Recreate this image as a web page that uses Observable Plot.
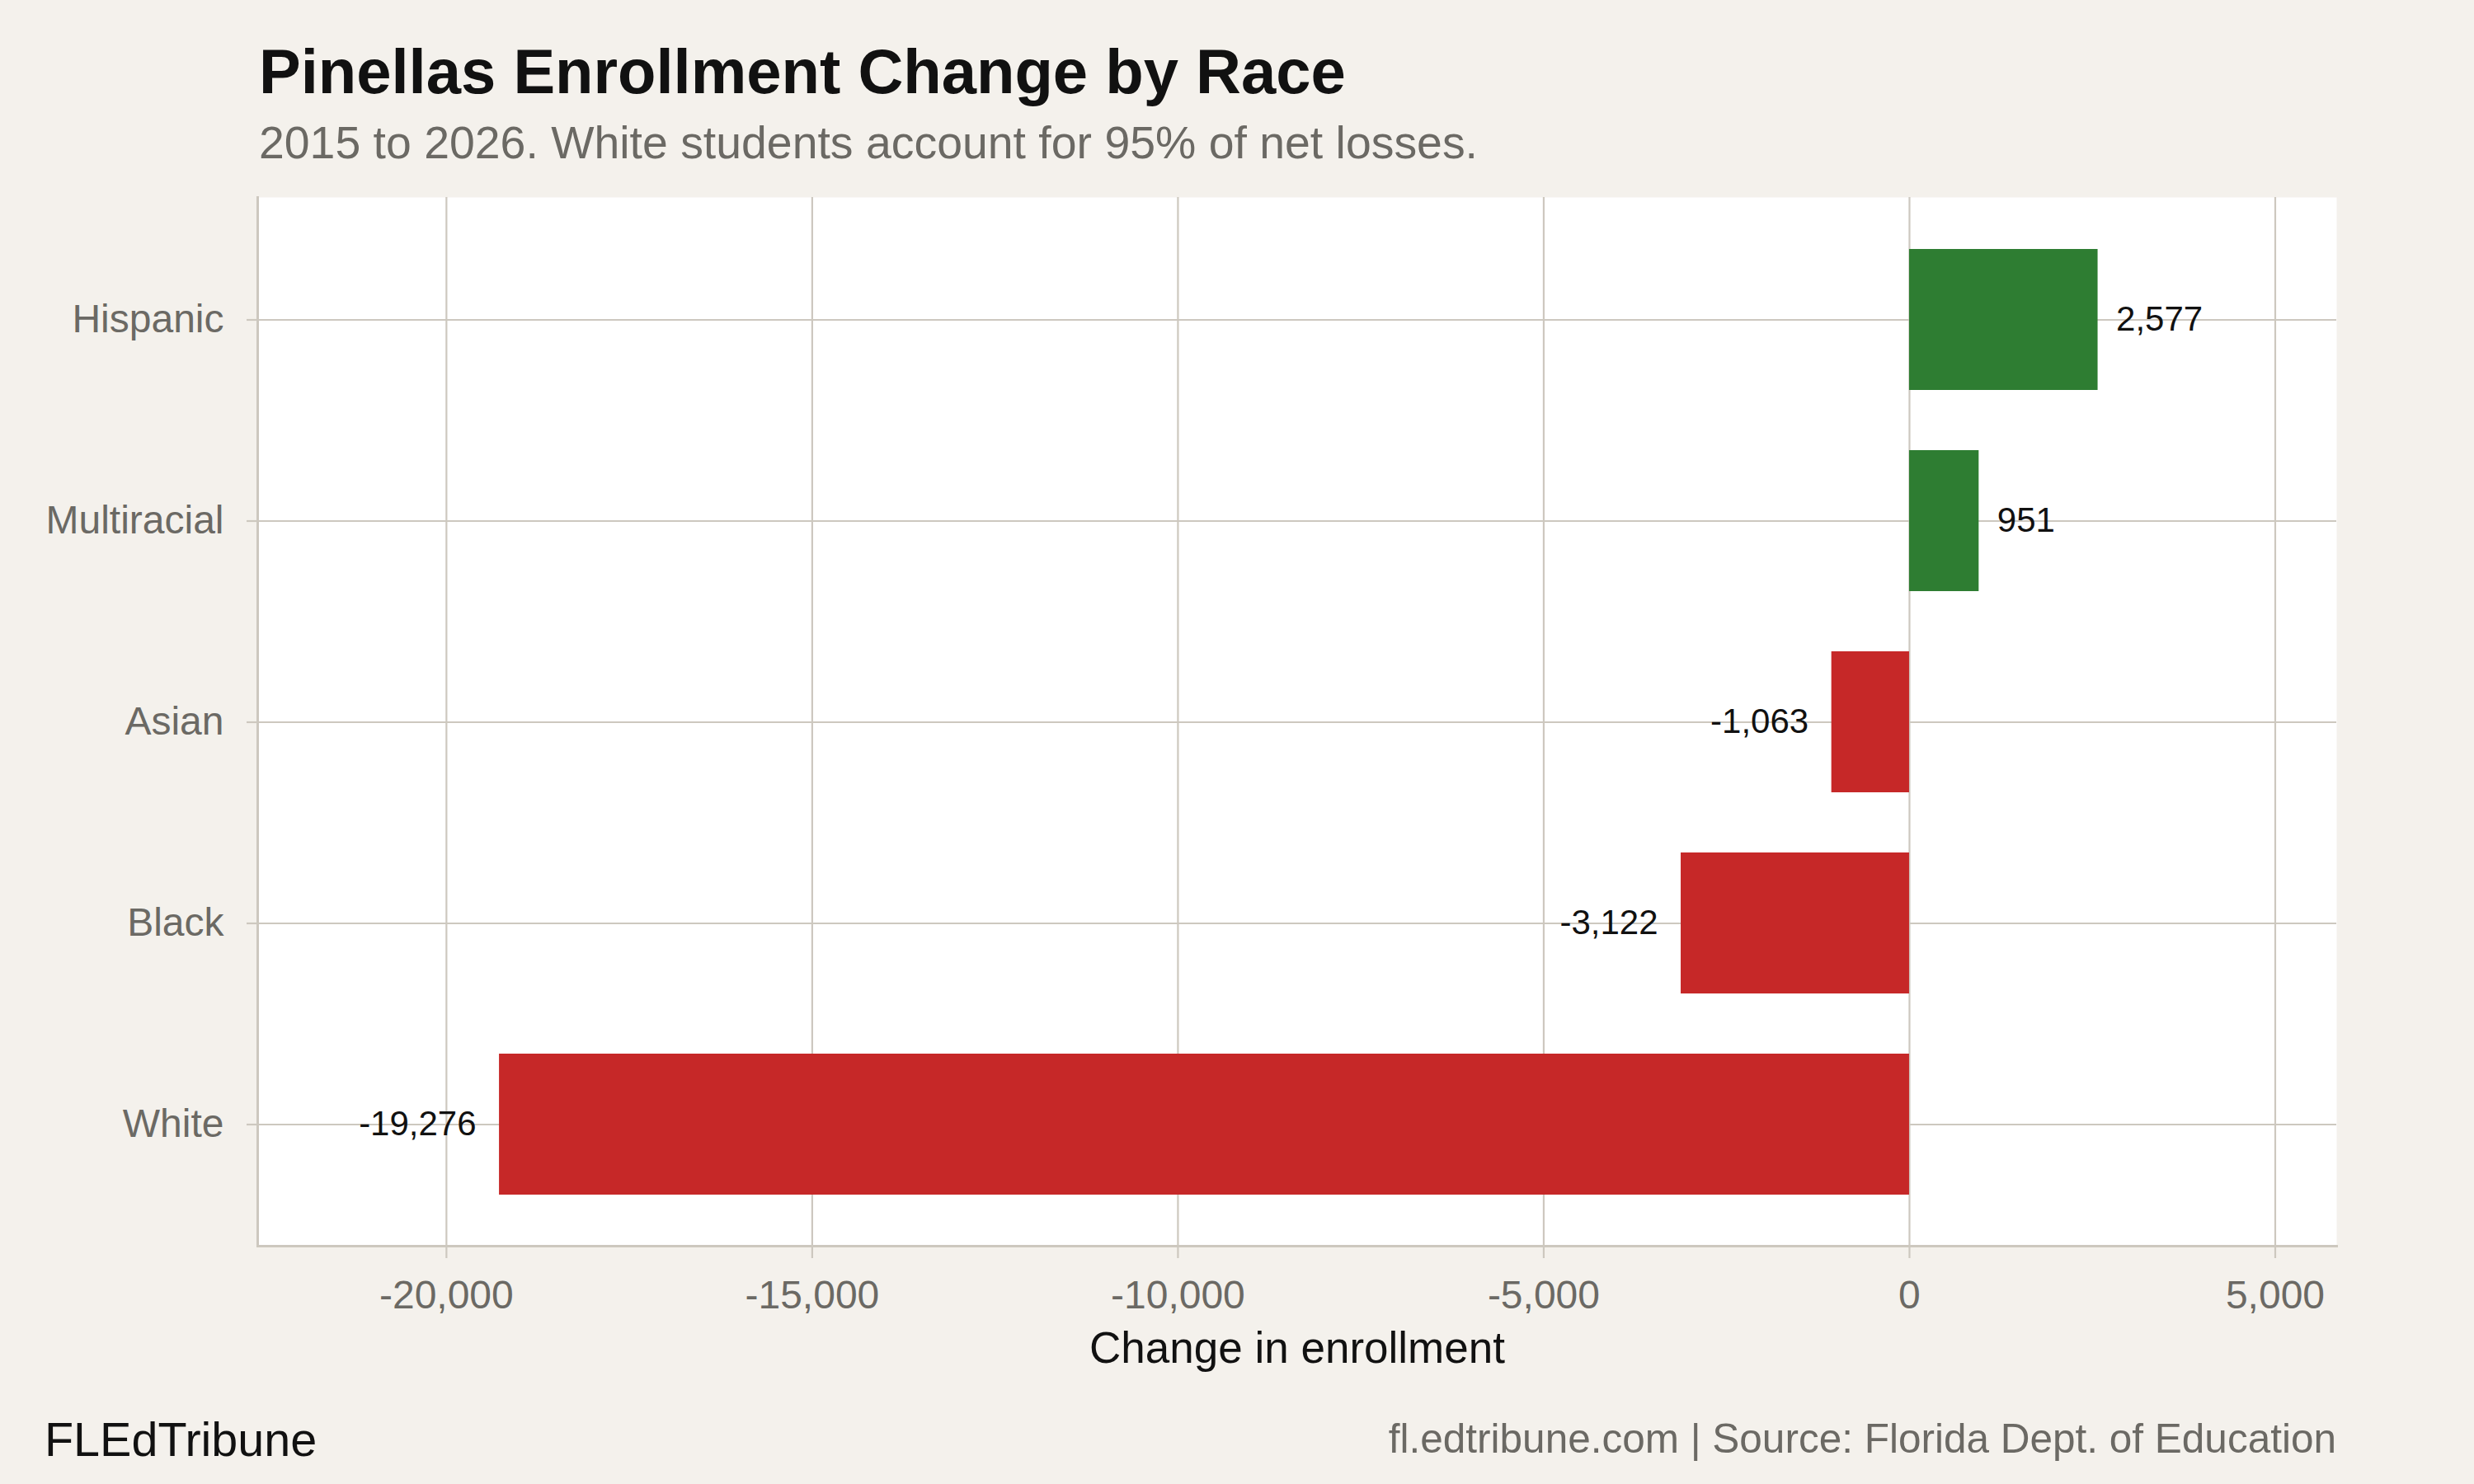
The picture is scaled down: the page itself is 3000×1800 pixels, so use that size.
<!DOCTYPE html>
<html>
<head>
<meta charset="utf-8">
<script src="https://cdn.jsdelivr.net/npm/d3@7"></script>
<script src="https://cdn.jsdelivr.net/npm/@observablehq/plot@0.6"></script>
<style>
  html, body { margin: 0; padding: 0; background: #f4f1ec; }
  body { width: 3000px; height: 1800px; position: relative; overflow: hidden;
         font-family: "Liberation Sans", Arial, Helvetica, sans-serif; }
  .t { position: absolute; white-space: nowrap; line-height: 1; }
  #title { left: 314px; top: 49px; font-size: 76px; font-weight: bold; color: #111; }
  #subtitle { left: 314px; top: 146px; font-size: 55.4px; color: #6b6964; }
  #brand { left: 54px; top: 1718px; font-size: 57.5px; color: #111; }
  #source { right: 167px; top: 1720px; font-size: 49.5px; color: #6b6964; }
  #chart { position: absolute; left: 0; top: 200px; }
</style>
</head>
<body>
<div class="t" id="title">Pinellas Enrollment Change by Race</div>
<div class="t" id="subtitle">2015 to 2026. White students account for 95% of net losses.</div>
<div id="chart"></div>
<div class="t" id="brand">FLEdTribune</div>
<div class="t" id="source">fl.edtribune.com | Source: Florida Dept. of Education</div>
<script>
const races = ["Hispanic", "Multiracial", "Asian", "Black", "White"];
const changes = [2577, 951, -1063, -3122, -19276];
const xTicks = [-20000, -15000, -10000, -5000, 0, 5000];
const xDomain = [-22580, 5840];
const axisTitle = "Change in enrollment";

const gainColor = "#2e7d32";
const lossColor = "#c62828";
const gridColor = "#cdc8bf";
const tickText = "#6b6964";

const data = races.map((r, i) => ({race: races[i], value: changes[i]}));
const fmt = v => v.toLocaleString("en-US");

const chart = Plot.plot({
  width: 3000,
  height: 1500,
  marginLeft: 312,
  marginRight: 167,
  marginTop: 39,
  marginBottom: 189,
  style: {background: "transparent", fontFamily: "'Liberation Sans', Arial, Helvetica, sans-serif"},
  x: {domain: xDomain, ticks: xTicks, label: null},
  y: {domain: races, paddingInner: 0.3, paddingOuter: 0.25, label: null},
  color: {type: "identity"},
  marks: [
    Plot.frame({fill: "white", stroke: null}),
    Plot.gridX({ticks: xTicks, stroke: gridColor, strokeOpacity: 1, strokeWidth: 2.2}),
    Plot.gridY({stroke: gridColor, strokeOpacity: 1, strokeWidth: 2.2}),
    Plot.frame({anchor: "left", stroke: gridColor, strokeWidth: 3}),
    Plot.frame({anchor: "bottom", stroke: gridColor, strokeWidth: 3}),
    Plot.barX(data, {x: "value", y: "race", fill: d => d.value > 0 ? gainColor : lossColor}),
    Plot.text(data.filter(d => d.value > 0), {x: "value", y: "race", text: d => fmt(d.value),
      textAnchor: "start", dx: 22, fontSize: 42, fill: "#111"}),
    Plot.text(data.filter(d => d.value < 0), {x: "value", y: "race", text: d => fmt(d.value),
      textAnchor: "end", dx: -28, fontSize: 42, fill: "#111"}),
    Plot.axisX({ticks: xTicks, tickFormat: fmt, tickSize: 15, tickPadding: 26, fontSize: 48,
      stroke: gridColor, strokeWidth: 2.2, fill: tickText, label: null}),
    Plot.axisY({tickSize: 13, tickPadding: 28, fontSize: 48, stroke: gridColor, strokeWidth: 2.2,
      fill: tickText, label: null}),
    Plot.text([axisTitle], {text: d => d, frameAnchor: "bottom", lineAnchor: "bottom", dy: 141,
      fontSize: 53, fill: "#111"})
  ]
});
document.getElementById("chart").appendChild(chart);
</script>
</body>
</html>
